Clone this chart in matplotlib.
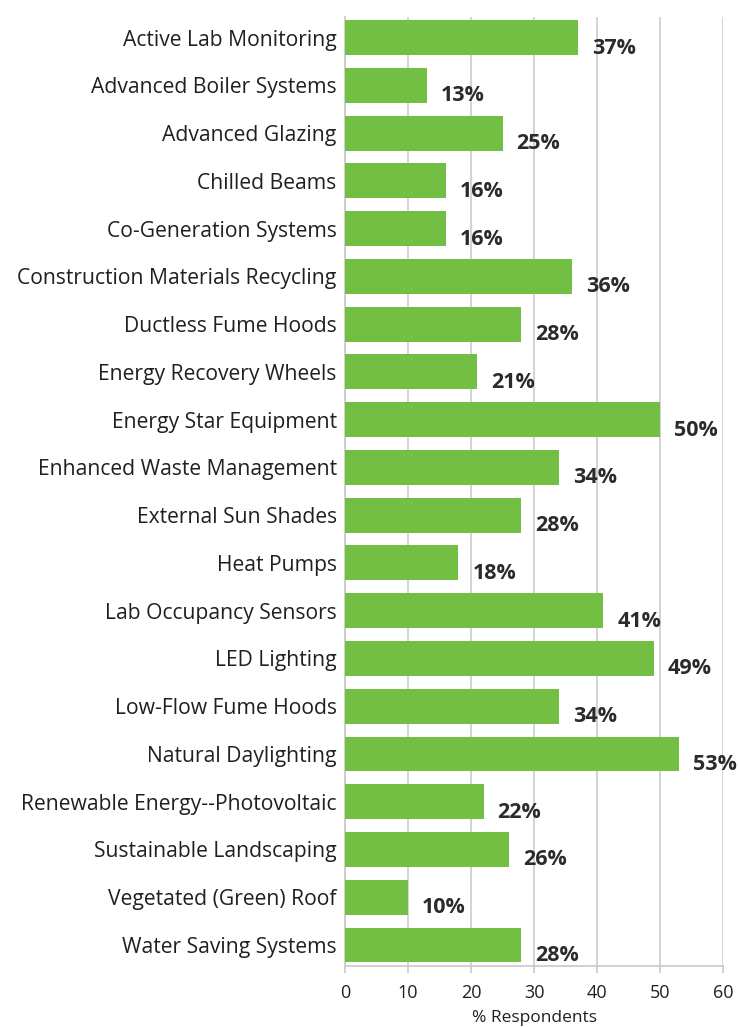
import matplotlib
matplotlib.use("Agg")
import matplotlib.pyplot as plt

categories = [
    "Active Lab Monitoring", "Advanced Boiler Systems", "Advanced Glazing",
    "Chilled Beams", "Co-Generation Systems", "Construction Materials Recycling",
    "Ductless Fume Hoods", "Energy Recovery Wheels", "Energy Star Equipment",
    "Enhanced Waste Management", "External Sun Shades", "Heat Pumps",
    "Lab Occupancy Sensors", "LED Lighting", "Low-Flow Fume Hoods",
    "Natural Daylighting", "Renewable Energy--Photovoltaic",
    "Sustainable Landscaping", "Vegetated (Green) Roof", "Water Saving Systems",
]
values = [37, 13, 25, 16, 16, 36, 28, 21, 50, 34, 28, 18, 41, 49, 34, 53, 22, 26, 10, 28]
xticks = [0, 10, 20, 30, 40, 50, 60]

plt.rcParams['font.family'] = ['Open Sans', 'DejaVu Sans']

fig = plt.figure(figsize=(7.38, 10.27), dpi=100)
ax = fig.add_axes([0.4675, 0.0594, 0.9797 - 0.4675, 0.9834 - 0.0594])

ypos = list(range(len(categories)))
ax.barh(ypos, values, height=0.73, color='#72bf44', zorder=3)
for y, v in zip(ypos, values):
    ax.annotate(f"{v}%", xy=(v, y), xytext=(10, -7.5), textcoords='offset points',
                ha='left', va='center', fontsize=15.5, fontweight='bold', color='#2b2b2b')

ax.set_xlim(0, 60)
ax.set_ylim(len(categories) - 0.56, -0.43)
ax.set_yticks(ypos)
ax.set_yticklabels(categories, fontsize=15.2, color='#231f20')
ax.set_xticks(xticks)
ax.set_xticklabels([str(t) for t in xticks], fontsize=13, color='#231f20')
ax.tick_params(axis='y', length=0, pad=6)
ax.tick_params(axis='x', length=5, color='#c8c8c8', width=1.2, pad=8)
ax.set_xlabel('% Respondents', fontsize=12.5, color='#231f20', labelpad=6)
ax.grid(axis='x', color='#cccccc', linewidth=1.2, zorder=0)
for s in ['top', 'right']:
    ax.spines[s].set_visible(False)
for s in ['left', 'bottom']:
    ax.spines[s].set_color('#c8c8c8')
    ax.spines[s].set_linewidth(1.2)

fig.savefig('out.png', dpi=100)
